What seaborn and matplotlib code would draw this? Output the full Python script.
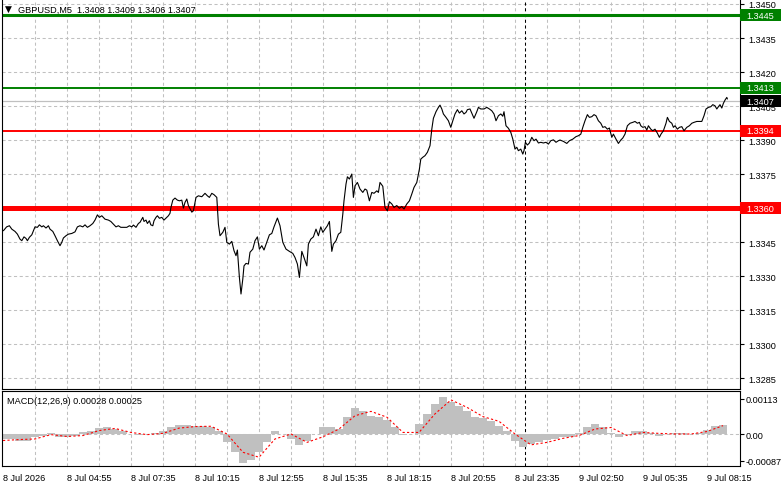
import matplotlib
matplotlib.use("Agg")
import matplotlib.pyplot as plt
import matplotlib.transforms as mtransforms
from matplotlib.patches import Rectangle
import pandas as pd
import seaborn as sns

sns.set_style("white")
plt.rcParams['font.family'] = ['Liberation Sans', 'DejaVu Sans']

# ---------------- data ----------------
title_text = "GBPUSD,M5  1.3408 1.3409 1.3406 1.3407"
macd_text = "MACD(12,26,9) 0.00028 0.00025"

price_bar = [0.2,1.8,3.2,4.4,6,7.2,8.5,9.4,10.5,11.5,12.2,13.2,14.4,15.2,16,17.2,18.2,19.4,20.2,21.5,
             22.7,23.5,24.9,26,27.2,28.5,29.4,30.2,31.5,32.7,34.4,36,37.2,38.5,39.9,41,42.2,43.5,44.9,46,
             47.2,48.2,49.4,51,52.7,53.9,55.2,56.5,57.7,58.9,60.2,61.9,63.2,64.4,65.2,66.5,67.7,68.5,69.9,70.5,
             71.5,72.2,73.2,73.9,74.9,75.5,76.5,77.2,78.2,79.4,80.5,81.9,82.7,83.5,83.9,84.9,86,87.2,88.2,89.4,
             90.2,91,91.9,92.7,94.4,95.2,96.5,97.7,99.4,101,102.2,103.2,104.4,105.5,106.9,107.7,108.5,109.9,111,111.9,
             113.2,114.4,115.5,116.5,117.2,118.2,119,119.9,120.5,121.5,122.7,123.5,124.9,126,127.2,128.2,129.4,130.5,131.9,133.2,
             134.4,135.5,137.2,138.5,139.9,141.5,143.2,144.9,146,147.2,148.2,149.4,150.5,151.9,152.7,153.9,155.2,156.5,157.7,158.9,
             159.9,161,162.2,163.2,164.4,165.2,166.5,167.7,168.9,169.9,170.5,171.5,172.2,173.2,174.4,175.2,176,177.2,178.5,179.9,
             181,181.9,183.2,184.4,185.5,186.9,187.7,188.5,189.9,191,192.2,193.2,194.4,195.5,196.9,198.2,199.4,200.5,201.9,203.2,
             204.4,205.5,206.9,208.2,208.9,209.9,211,212.2,213.5,214.4,215.2,216.5,217.7,218.5,219.4,220.2,221.5,222.7,223.9,224.9,
             226,227.2,228.2,229.4,230.5,231.5,232.2,233.5,234.4,235.5,236.9,237.7,238.9,240.5,241.9,243.2,244.4,245.5,246.5,247.7,
             248.9,249.9,250.5,251.5,252.7,253.9,254.9,256,256.9,257.7,258.9,259.9,260.5,261.2,262.2,263.2,264.4,265.5,266.5,267.7,
             268.9,270.2,271.5,272.7,273.9,275.2,276.5,277.7,278.5,280.2,281.9,283.2,284.9,286.5,287.7,288.9,289.9,291,292.2,293.2,
             294.4,295.5,296.5,297.7,298.9,299.9,301,302.2,303.2,304.4,305.2,306.5,307.7,308.9,309.9,311,312.2,313.5,314.9,316,
             317.2,318.2,318.9,319.9,321,321.9,322.7,323.9,324.9,326,327.2,328.2,329,330.2,331.5,332.2,333.2,334.4,335.2,336,
             337.2,338.2,339.4,340.5,341.9,343.2,344.4,345.5,346.9,348.2,349.4,350.5,351.5,352.7,353.9,354.9,356,356.9,357.7,358.5,
             359.4,360.2,361,361.9,362.2]

price_close = [1.33500,1.33517,1.33522,1.33507,1.33497,1.33485,1.33463,1.33456,1.33473,1.33466,1.33456,1.33471,1.33482,1.33500,1.33517,1.33515,1.33526,1.33517,1.33522,1.33512,
               1.33522,1.33507,1.33497,1.33478,1.33456,1.33434,1.33449,1.33468,1.33478,1.33485,1.33488,1.33495,1.33517,1.33522,1.33517,1.33526,1.33515,1.33522,1.33532,1.33547,
               1.33570,1.33559,1.33566,1.33551,1.33547,1.33541,1.33529,1.33517,1.33522,1.33515,1.33515,1.33515,1.33522,1.33517,1.33525,1.33515,1.33532,1.33537,1.33559,1.33541,
               1.33547,1.33532,1.33544,1.33526,1.33522,1.33544,1.33559,1.33566,1.33555,1.33559,1.33547,1.33559,1.33566,1.33577,1.33600,1.33635,1.33644,1.33635,1.33632,1.33635,
               1.33600,1.33625,1.33640,1.33611,1.33582,1.33588,1.33647,1.33654,1.33650,1.33665,1.33654,1.33647,1.33665,1.33659,1.33647,1.33529,1.33478,1.33493,1.33515,1.33449,
               1.33441,1.33453,1.33412,1.33390,1.33415,1.33294,1.33221,1.33287,1.33345,1.33356,1.33353,1.33405,1.33419,1.33456,1.33473,1.33419,1.33434,1.33415,1.33449,1.33482,
               1.33488,1.33517,1.33556,1.33522,1.33449,1.33419,1.33409,1.33400,1.33382,1.33353,1.33294,1.33409,1.33382,1.33345,1.33441,1.33463,1.33473,1.33507,1.33478,1.33517,
               1.33493,1.33507,1.33522,1.33541,1.33409,1.33441,1.33456,1.33485,1.33493,1.33573,1.33632,1.33706,1.33738,1.33728,1.33750,1.33647,1.33698,1.33713,1.33684,1.33669,
               1.33684,1.33679,1.33632,1.33669,1.33665,1.33676,1.33669,1.33713,1.33696,1.33603,1.33588,1.33628,1.33618,1.33603,1.33611,1.33599,1.33607,1.33596,1.33618,1.33632,
               1.33662,1.33691,1.33713,1.33772,1.33816,1.33824,1.33831,1.33846,1.33875,1.33948,1.33996,1.34025,1.34044,1.34054,1.34037,1.34015,1.34000,1.33985,1.33956,1.33985,
               1.34015,1.34034,1.34019,1.34029,1.34015,1.34022,1.34034,1.34037,1.34019,1.33996,1.34025,1.34044,1.34037,1.34037,1.34044,1.34037,1.34029,1.34015,1.33985,1.34007,
               1.34015,1.34005,1.34025,1.33963,1.33952,1.33934,1.33904,1.33860,1.33868,1.33853,1.33860,1.33838,1.33853,1.33890,1.33878,1.33887,1.33912,1.33897,1.33904,1.33887,
               1.33890,1.33887,1.33890,1.33882,1.33897,1.33901,1.33890,1.33897,1.33900,1.33894,1.33885,1.33897,1.33904,1.33915,1.33919,1.33926,1.33956,1.33985,1.34012,1.34000,
               1.34003,1.34012,1.34007,1.33985,1.33974,1.33956,1.33959,1.33948,1.33953,1.33912,1.33926,1.33904,1.33885,1.33900,1.33909,1.33926,1.33963,1.33974,1.33978,1.33982,
               1.33974,1.33978,1.33963,1.33956,1.33959,1.33944,1.33963,1.33948,1.33941,1.33948,1.33930,1.33912,1.33926,1.33941,1.33974,1.34000,1.33982,1.33974,1.33956,1.33963,
               1.33948,1.33956,1.33959,1.33941,1.33956,1.33963,1.33974,1.33978,1.33982,1.33982,1.33982,1.34007,1.34037,1.34044,1.34047,1.34056,1.34051,1.34037,1.34047,1.34056,
               1.34041,1.34062,1.34076,1.34088,1.34081]

hist_bar = [0,4,8,12,16,20,24,28,32,36,40,44,48,52,56,60,64,68,72,76,80,84,88,92,96,100,104,108,112,116,
            120,124,128,132,136,140,144,148,152,156,160,164,168,172,176,180,184,188,192,196,200,204,208,212,216,220,224,228,232,236,
            240,244,248,252,256,260,264,268,272,276,280,284,288,292,296,300,304,308,312,316,320,324,328,332,336,340,344,348,352,356,360]
hist_val = [-16,-16,-21,-24,-11,-5,2,-11,-11,-5,5,11,19,24,16,9,0,-2,0,2,9,24,30,28,26,26,24,11,-27,-59,
            -95,-84,-59,-27,10,0,-16,-34,-24,0,21,21,16,54,84,73,59,54,45,21,-2,0,32,65,97,120,102,91,75,56,
            52,43,27,11,-21,-41,-32,-27,-19,-16,-11,-9,2,24,32,21,2,-9,-2,11,9,2,-6,0,2,2,0,2,13,27,30]

sig_bar = [0,8,16,24,32,40,48,56,64,72,80,88,96,104,112,120,128,136,144,152,160,168,176,184,192,200,208,216,224,232,
           240,248,256,264,272,280,288,296,304,312,320,328,336,344,352,360]
sig_val = [-21,-18,-16,-2,-8,-5,11,18,5,-2,2,19,24,25,0,-59,-75,-16,0,-27,-9,16,59,73,54,5,5,65,110,86,
           56,41,0,-35,-27,-14,-5,16,21,-5,5,2,0,0,8,27]

price_ticks = [1.3285,1.3300,1.3315,1.3330,1.3345,1.3360,1.3375,1.3390,1.3405,1.3420,1.3435,1.3450]
price_tick_labels = ["1.3285","1.3300","1.3315","1.3330","1.3345","","1.3375","1.3390","1.3405","1.3420","1.3435","1.3450"]
macd_ticks = [0.00113, 0.0, -0.00087]
macd_tick_labels = ["0.00113", "0.00", "-0.00087"]
grid_bars = [16,32,48,64,80,96,112,128,144,160,176,192,208,224,240,256,272,288,304,320,336,352]
date_bars = [0,32,64,96,128,160,192,224,256,288,320,352]
date_labels = ["8 Jul 2026","8 Jul 04:55","8 Jul 07:35","8 Jul 10:15","8 Jul 12:55","8 Jul 15:35",
               "8 Jul 18:15","8 Jul 20:55","8 Jul 23:35","9 Jul 02:50","9 Jul 05:35","9 Jul 08:15"]
separator_bar = 261
levels = [(1.3445, '#008000', 2.2), (1.3413, '#008000', 1.4), (1.3394, '#ff0000', 1.4), (1.3360, '#ff0000', 3.6)]
level_labels = [(1.3445, '#008000'), (1.3413, '#008000'), (1.3407, '#000000'), (1.3394, '#ff0000'), (1.3360, '#ff0000')]
bid_price = 1.3407

# ---------------- figure ----------------
W, H = 781, 489
fig = plt.figure(figsize=(W/100, H/100), dpi=100)
fig.patch.set_facecolor('white')
ax = fig.add_axes([2/W, 1-390/H, 738/W, 390/H])
axm = fig.add_axes([2/W, 1-466.5/H, 738/W, 74.5/H])

GRID = '#c0c0c0'
DASH = (0, (3, 2.5))
FS = 6.6

for a in (ax, axm):
    a.set_xlim(-0.5, 368.5)
    a.set_facecolor('white')
    for s in a.spines.values():
        s.set_color('black')
        s.set_linewidth(0.8)
    for gb in grid_bars:
        a.axvline(gb, color=GRID, ls=DASH, lw=0.75, zorder=0)
    a.axvline(separator_bar, color='black', ls=DASH, lw=0.75, zorder=1)

# main panel
ax.set_ylim(1.32802, 1.34522)
ax.spines['top'].set_visible(False)
for t in price_ticks:
    ax.axhline(t, color=GRID, ls=DASH, lw=0.75, zorder=0)
ax.axhline(bid_price, color='#c0c0c0', lw=0.9, zorder=1)
for p, c, lw in levels:
    ax.axhline(p, color=c, lw=lw, zorder=2)

df = pd.DataFrame({'bar': price_bar, 'close': price_close})
sns.lineplot(data=df, x='bar', y='close', ax=ax, color='black', lw=0.8,
             sort=False, estimator=None, zorder=3)
ax.set_xlabel('')
ax.set_ylabel('')
ax.set_xticks([])
ax.yaxis.tick_right()
ax.set_yticks(price_ticks)
ax.set_yticklabels(price_tick_labels)
ax.tick_params(axis='y', length=3, width=0.8, pad=3, labelsize=FS, colors='black')

trans = mtransforms.blended_transform_factory(ax.transAxes, ax.transData)
bh = 12 / 22667
for p, c in level_labels:
    ax.add_patch(Rectangle((1.0, p - bh/2), 41/738, bh, transform=trans,
                           facecolor=c, edgecolor='none', clip_on=False, zorder=20))
    ax.text(1.0 + 6/738, p, f"{p:.4f}", transform=trans, color='white', fontsize=FS,
            va='center', ha='left', clip_on=False, zorder=21)

fig.text(5/W, 1-9.5/H, "\u25bc", fontsize=6.5, va='center', ha='left',
         family=['DejaVu Sans'], color='black')
fig.text(18/W, 1-10/H, title_text, fontsize=FS, va='center', ha='left', color='black')

# MACD panel
axm.set_ylim(-0.001016, 0.001387)
axm.axhline(0, color=GRID, ls=DASH, lw=0.75, zorder=0)
axm.bar(hist_bar, [v * 1e-5 for v in hist_val], width=4,
        color='#c0c0c0', edgecolor='none', zorder=2)
dsig = pd.DataFrame({'bar': sig_bar, 'signal': [v * 1e-5 for v in sig_val]})
sns.lineplot(data=dsig, x='bar', y='signal', ax=axm, color='#ff0000', lw=0.8,
             ls=(0, (2, 2)), sort=False, estimator=None, zorder=3)
axm.set_xlabel('')
axm.set_ylabel('')
axm.yaxis.tick_right()
axm.set_yticks(macd_ticks)
axm.set_yticklabels(macd_tick_labels)
axm.tick_params(axis='y', length=3, width=0.8, pad=1.2, labelsize=FS, colors='black')
axm.set_xticks(date_bars)
axm.set_xticklabels(date_labels, ha='left')
axm.tick_params(axis='x', length=3, width=0.8, pad=2.5, labelsize=FS, colors='black')
axm.text(5/738, 1-9/74.5, macd_text, transform=axm.transAxes, fontsize=FS,
         va='center', ha='left', color='black')

fig.savefig('out.png', dpi=100, facecolor='white')
